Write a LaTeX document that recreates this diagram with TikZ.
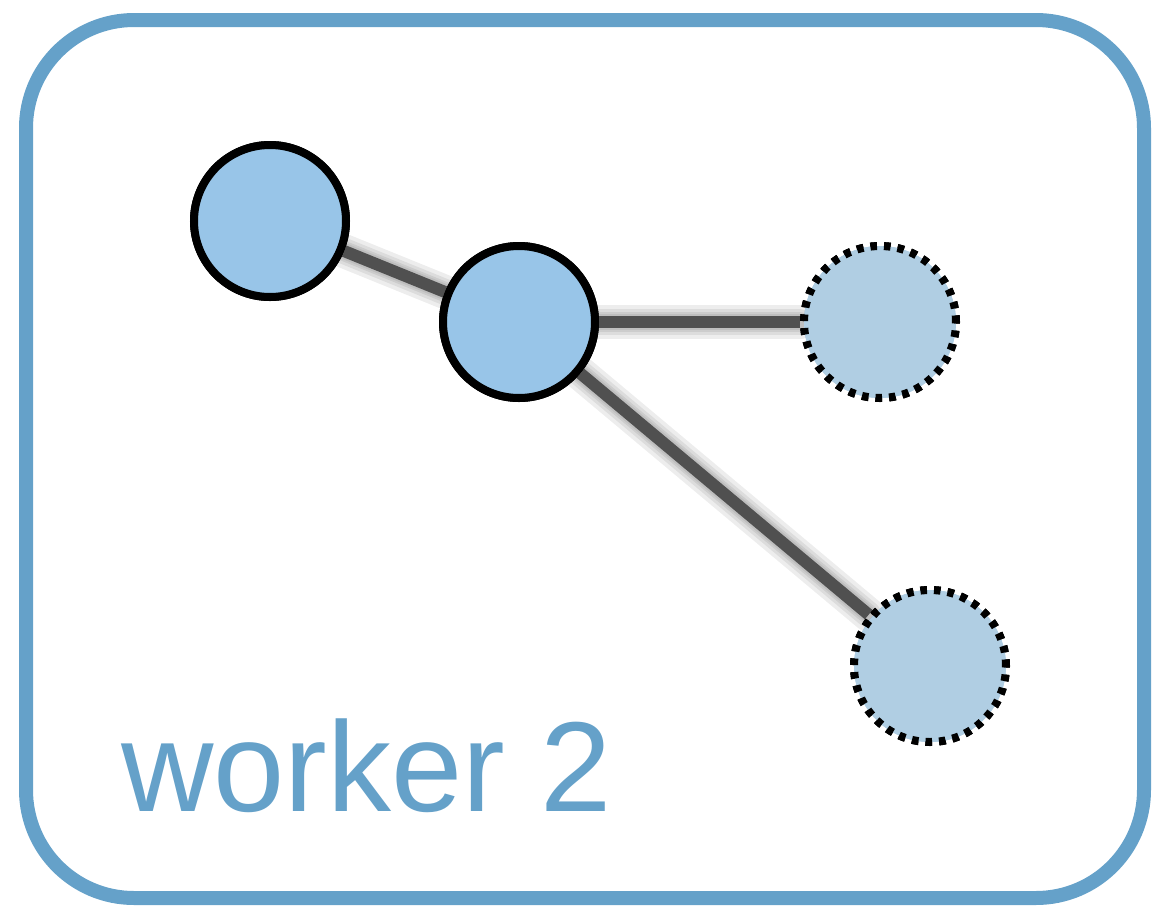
\documentclass[tikz,border=0pt]{standalone}
\usepackage{fontspec}
\setmainfont{Liberation Sans}
\definecolor{frameblue}{RGB}{101,161,201}
\definecolor{solidfill}{RGB}{152,197,232}
\definecolor{ghostfill}{RGB}{176,206,227}
\definecolor{edgegray}{RGB}{80,80,80}
\begin{document}
\begin{tikzpicture}[x=0.5pt,y=-0.5pt,
  solidnode/.style={circle,draw=black,line width=4pt,fill=solidfill,minimum size=76pt,inner sep=0pt},
  ghostnode/.style={circle,draw=black,line width=4pt,fill=ghostfill,minimum size=76pt,inner sep=0pt,dash pattern=on 3.3pt off 3.5pt},
  link/.style={draw=edgegray,line width=6pt},
  linkshadow/.style={draw=black,line width=#1,opacity=0.07,line cap=round},
]
\useasboundingbox (0,0) rectangle (1153,906);
\draw[frameblue,line width=7pt,rounded corners=54pt] (26,20) rectangle (1144,898);

\node[solidnode] (a) at (270,221) {};
\node[solidnode] (b) at (519,322) {};
\node[ghostnode] (c) at (880,322) {};
\node[ghostnode] (d) at (930,666) {};

\foreach \w in {17pt,13pt,10pt,8pt}{
  \begin{scope}[shift={(3,10)}]
  \path[linkshadow=\w] (a) -- (b);
  \path[linkshadow=\w] (b) -- (c);
  \path[linkshadow=\w] (b) -- (d);
  \end{scope}
}
\path[link] (a) -- (b);
\path[link] (b) -- (c);
\path[link] (b) -- (d);

\node[solidnode] at (a) {};
\node[solidnode] at (b) {};
\node[ghostnode] at (c) {};
\node[ghostnode] at (d) {};

\node[anchor=base west,inner sep=0pt,text=frameblue,font=\fontsize{64pt}{70pt}\selectfont] (lbl) at (121,811) {worker 2};
\end{tikzpicture}
\end{document}
